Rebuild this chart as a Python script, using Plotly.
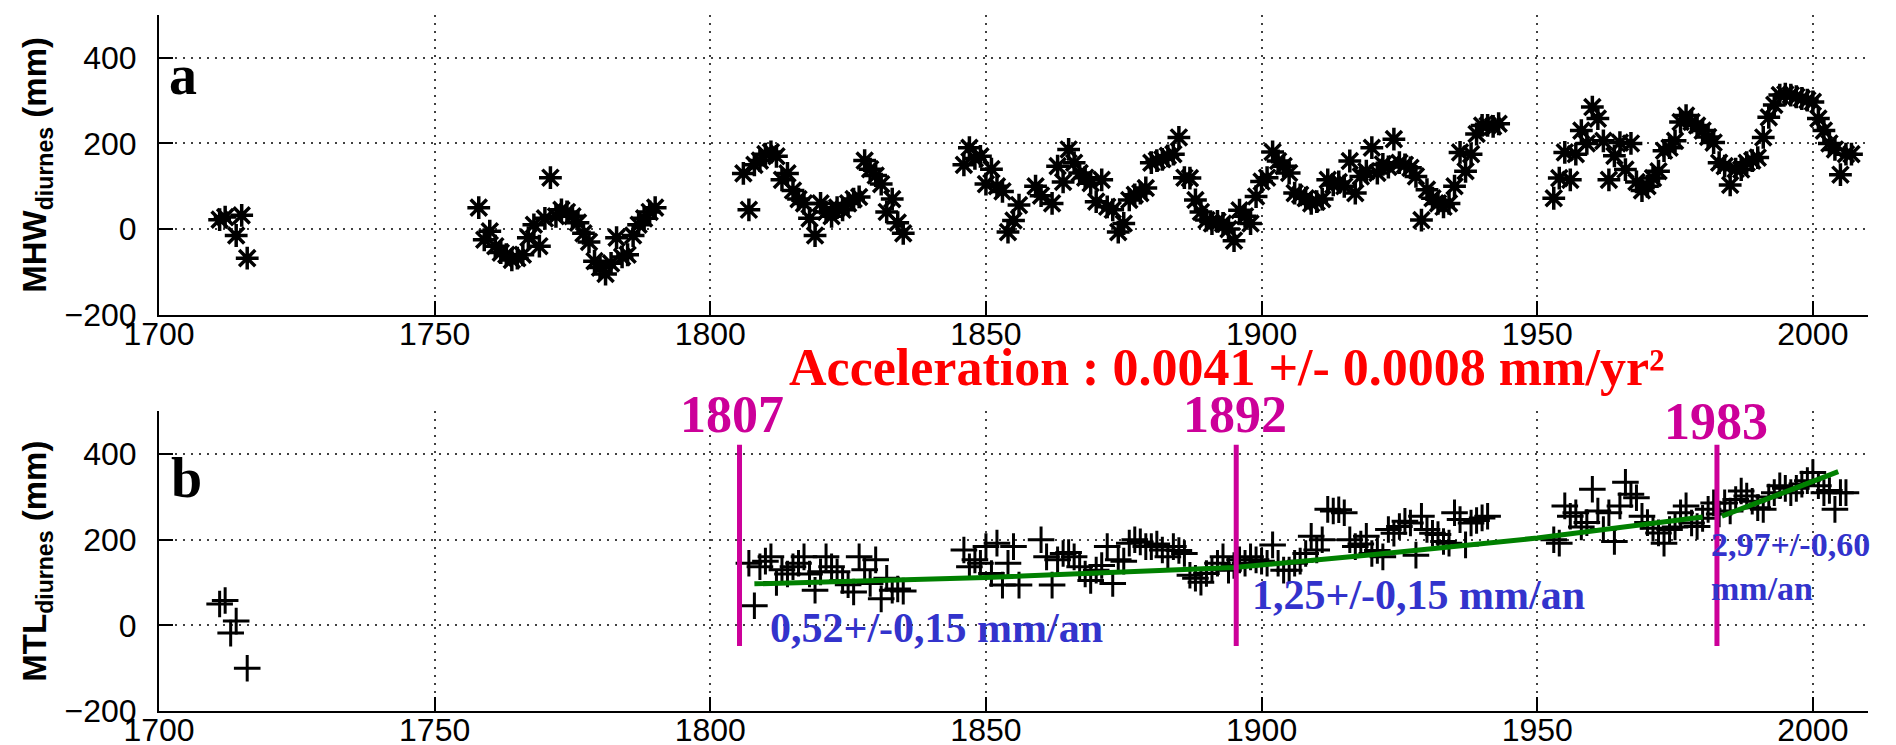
import plotly.graph_objects as go

# ---------------- data ----------------
mhw_years = [1711, 1712, 1714, 1715, 1716,
             1758, 1759, 1760, 1761, 1762, 1763, 1764, 1765, 1766, 1767, 1768, 1769, 1770,
             1771, 1772, 1773, 1774, 1775, 1776, 1777, 1778, 1779, 1780, 1781, 1782, 1783,
             1784, 1785, 1786, 1787, 1788, 1789, 1790,
             1806, 1807, 1808, 1809, 1810, 1811, 1812, 1813, 1814, 1815, 1816, 1817, 1818,
             1819, 1820, 1821, 1822, 1823, 1824, 1825, 1826, 1827, 1828, 1829, 1830, 1831,
             1832, 1833, 1834, 1835,
             1846, 1847, 1848, 1849, 1850, 1851, 1852, 1853, 1854, 1855, 1856,
             1859, 1860, 1862, 1863, 1864, 1865, 1866, 1867, 1868, 1869, 1870, 1871, 1872,
             1873, 1874, 1875, 1876, 1877, 1878, 1879, 1880, 1881, 1882, 1883, 1884, 1885,
             1886, 1887, 1888, 1889, 1890, 1891, 1892, 1893, 1894, 1895, 1896, 1897, 1898,
             1899, 1900, 1901, 1902, 1903, 1904, 1905, 1906, 1907, 1908, 1909, 1910, 1911,
             1912, 1913, 1914, 1915, 1916, 1917, 1918, 1919, 1920, 1921, 1922, 1923, 1924,
             1925, 1926, 1927, 1928, 1929, 1930, 1931, 1932, 1933, 1934, 1935, 1936, 1937,
             1938, 1939, 1940, 1941, 1942, 1943,
             1953, 1954, 1955, 1956, 1957, 1958, 1959, 1960, 1961, 1962, 1963, 1964, 1965,
             1966, 1967, 1968, 1969, 1970, 1971, 1972, 1973, 1974, 1975, 1976, 1977, 1978,
             1979, 1980, 1981, 1982, 1983, 1984, 1985, 1986, 1987, 1988, 1989, 1990, 1991,
             1992, 1993, 1994, 1995, 1996, 1997, 1998, 1999, 2000, 2001, 2002, 2003, 2004,
             2005, 2006, 2007]
mhw_values = [22, 28, -15, 32, -68,
              50, -25, -5, -40, -55, -60, -72, -68, -60, -20, 10, -40, 25,
              120, 30, 45, 40, 30, 15, -10, -30, -75, -90, -105, -80, -20,
              -65, -60, -15, 10, 25, 40, 50,
              130, 45, 150, 160, 175, 180, 170, 115, 130, 90, 70, 60, 25,
              -15, 60, 40, 30, 50, 45, 60, 70, 75, 160, 140, 125, 105,
              40, 70, 15, -10,
              150, 190, 165, 170, 105, 140, 100, 88, -7, 20, 56,
              100, 78, 60, 147, 110, 186, 155, 131, 120, 107, 64, 115, 52,
              45, -7, 13, 68, 80, 84, 96, 155, 160, 163, 171, 175, 214,
              120, 119, 68, 40, 21, 13, 18, 13, 0, -27, 44, 30, 13,
              76, 111, 120, 180, 159, 147, 131, 84, 80, 72, 60, 64, 70,
              115, 103, 110, 100, 159, 84, 123, 135, 190, 131, 151, 145, 210,
              155, 150, 143, 123, 21, 92, 72, 60, 52, 60, 100, 179, 135,
              175, 222, 242, 242, 240, 246,
              72, 119, 179, 115, 175, 230, 200, 285, 258, 206, 115, 171, 202,
              139, 200, 110, 90, 100, 119, 135, 183, 190, 206, 250, 265, 250,
              242, 230, 215, 202, 155, 147, 103, 140, 139, 155, 160, 167, 214,
              261, 290, 313, 315, 313, 309, 305, 301, 297, 258, 230, 200, 186,
              127, 175, 175]

mtl_years = [1711, 1712, 1713, 1714, 1716,
             1807, 1808, 1809, 1810, 1811, 1812, 1813, 1814, 1815, 1816, 1817, 1818, 1819,
             1820, 1821, 1822, 1823, 1824, 1825, 1826, 1827, 1828, 1829, 1830, 1831, 1832,
             1833, 1834, 1835,
             1846, 1847, 1848, 1849, 1850, 1851, 1852, 1853, 1854, 1855, 1856,
             1860, 1861, 1862, 1863, 1864, 1865, 1866, 1867, 1868, 1869, 1870, 1871, 1872,
             1873, 1874, 1875, 1876, 1877, 1878, 1879, 1880, 1881, 1882, 1883, 1884, 1885,
             1886, 1887, 1888, 1889, 1890, 1891, 1892, 1893, 1894, 1895, 1896, 1897, 1898,
             1899, 1900, 1901, 1902, 1903, 1904, 1905, 1906, 1907, 1908, 1909, 1910, 1911,
             1912, 1913, 1914, 1915, 1916, 1917, 1918, 1919, 1920, 1921, 1922, 1923, 1924,
             1925, 1926, 1927, 1928, 1929, 1930, 1931, 1932, 1933, 1934, 1935, 1936, 1937,
             1938, 1939, 1940, 1941,
             1953, 1954, 1955, 1956, 1957, 1958, 1959, 1960, 1961, 1962, 1963, 1964, 1965,
             1966, 1967, 1968, 1969, 1970, 1971, 1972, 1973, 1974, 1975, 1976, 1977, 1978,
             1979, 1980, 1981, 1982, 1983, 1984, 1985, 1986, 1987, 1988, 1989, 1990, 1991,
             1992, 1993, 1994, 1995, 1996, 1997, 1998, 1999, 2000, 2001, 2002, 2003, 2004,
             2005, 2006]
mtl_values = [50, 58, -18, 10, -100,
              145, 46, 137, 150, 160, 100, 130, 120, 137, 145, 160, 120, 82,
              125, 160, 137, 125, 105, 95, 78, 160, 130, 98, 153, 62, 110,
              82, 85, 80,
              176, 137, 153, 145, 184, 121, 192, 94, 145, 184, 94,
              200, 160, 94, 153, 168, 170, 160, 137, 120, 105, 129, 140, 184,
              98, 153, 150, 192, 200, 195, 184, 184, 190, 176, 160, 184, 175,
              168, 117, 110, 101, 121, 130, 145, 160, 129, 140, 153, 145, 160,
              153, 150, 145, 188, 145, 129, 129, 145, 150, 168, 208, 176, 200,
              271, 267, 270, 263, 200, 184, 190, 208, 168, 175, 160, 224, 215,
              231, 243, 239, 164, 255, 224, 215, 212, 196, 192, 263, 247, 188,
              239, 245, 251, 255,
              200, 192, 279, 255, 263, 230, 240, 318, 267, 224, 263, 196, 279,
              334, 306, 298, 255, 240, 227, 216, 192, 224, 230, 263, 279, 239,
              231, 250, 271, 286, 260, 286, 267, 294, 314, 302, 290, 275, 271,
              300, 310, 326, 320, 310, 320, 330, 338, 357, 326, 310, 315, 271,
              310, 310]

# piecewise fit drawn in green (None separates the two drawn pieces)
fit_years = [1808, 1850, 1895, 1920, 1950, 1980, None, 1983.5, 2004.6]
fit_values = [97, 112, 135, 165, 204, 253, None, 255, 359]

# breakpoints (drawn positions) and their labels
break_years = [1805.3, 1895.4, 1982.6]
break_labels = ["1807", "1892", "1983"]
break_label_x = [1803.9, 1895.2, 1982.4]
break_label_y_paper = [0.426, 0.426, 0.416]
break_span = [-48, 422]

rate_texts = ["0,52+/-0,15 mm/an", "1,25+/-0,15 mm/an", "2,97+/-0,60<br>mm/an"]
rate_x = [1841.0, 1928.5, 1981.2]
rate_y = [-5, 70, 137]
rate_sizes = [42, 42, 34]

accel_text = "Acceleration : 0.0041 +/- 0.0008 mm/yr²"
accel_x = 1893.8      # data x (lower axis)
accel_y_paper = 0.494  # paper y

x_ticks = [1700, 1750, 1800, 1850, 1900, 1950, 2000]
y_ticks = [-200, 0, 200, 400]

# ---------------- figure ----------------
MAGENTA = "#CC0099"
BLUE = "#3333CC"
GREEN = "#008000"
SANS = "Liberation Sans, Arial, sans-serif"
SERIF = "Liberation Serif, Times New Roman, serif"

fig = go.Figure()

fig.add_trace(go.Scatter(
    x=mhw_years, y=mhw_values, mode="markers", xaxis="x", yaxis="y",
    marker=dict(symbol="asterisk-open", size=19, color="black",
                line=dict(color="black", width=3.5)),
    showlegend=False))

fig.add_trace(go.Scatter(
    x=mtl_years, y=mtl_values, mode="markers", xaxis="x2", yaxis="y2",
    marker=dict(symbol="cross-thin-open", size=19, color="black",
                line=dict(color="black", width=3)),
    showlegend=False))

fig.add_trace(go.Scatter(
    x=fit_years, y=fit_values, mode="lines", xaxis="x2", yaxis="y2",
    line=dict(color=GREEN, width=5), connectgaps=False, showlegend=False))

for bx in break_years:
    fig.add_trace(go.Scatter(
        x=[bx, bx], y=break_span, mode="lines", xaxis="x2", yaxis="y2",
        line=dict(color=MAGENTA, width=5), showlegend=False))

axis_common = dict(
    showline=True, linecolor="black", linewidth=2, mirror=False,
    ticks="inside", ticklen=14, tickwidth=1.5, tickcolor="black",
    showgrid=True, gridcolor="rgba(0,0,0,0.75)", gridwidth=1.5, griddash="2px,6px",
    zeroline=False, tickfont=dict(family=SANS, size=32, color="black"),
)

layout_axes = {}
for i, (xa, ya, dom, title) in enumerate([
        ("xaxis", "yaxis", [0.5694, 1.0], "<b>MHW<sub>diurnes</sub> (mm)</b>"),
        ("xaxis2", "yaxis2", [0.0, 0.4306], "<b>MTL<sub>diurnes</sub> (mm)</b>")]):
    yid = "y" if i == 0 else "y2"
    xid = "x" if i == 0 else "x2"
    layout_axes[xa] = dict(axis_common, range=[1700, 2010], tickvals=x_ticks,
                           anchor=yid, domain=[0, 1], ticklabelstandoff=-10)
    layout_axes[ya] = dict(axis_common, range=[-200, 500], tickvals=y_ticks,
                           anchor=xid, domain=dom, ticklabelstandoff=14,
                           title=dict(text=title, standoff=8,
                                      font=dict(family=SANS, size=33, color="black")))

fig.update_layout(
    width=1896, height=745,
    margin=dict(l=151, r=36, t=7, b=42, autoexpand=False),
    paper_bgcolor="white", plot_bgcolor="white",
    showlegend=False,
    **layout_axes,
)

ann = []
ann.append(dict(text="<b>a</b>", x=1704.3, y=360, xref="x", yref="y", showarrow=False,
                font=dict(family=SERIF, size=56, color="black")))
ann.append(dict(text="<b>b</b>", x=1705.0, y=345, xref="x2", yref="y2", showarrow=False,
                font=dict(family=SERIF, size=56, color="black")))
ann.append(dict(text="<b>" + accel_text + "</b>", x=accel_x, y=accel_y_paper,
                xref="x2", yref="paper",
                showarrow=False, font=dict(family=SERIF, size=52, color="#FF0000")))
for lab, lx, ly in zip(break_labels, break_label_x, break_label_y_paper):
    ann.append(dict(text="<b>" + lab + "</b>", x=lx, y=ly, xref="x2", yref="paper",
                    showarrow=False, font=dict(family=SERIF, size=52, color=MAGENTA)))
for k, (t, rx, ry, fs) in enumerate(zip(rate_texts, rate_x, rate_y, rate_sizes)):
    if k < 2:
        ann.append(dict(text="<b>" + t + "</b>", x=rx, y=ry, xref="x2", yref="y2",
                        showarrow=False, font=dict(family=SERIF, size=fs, color=BLUE)))
    else:
        ann.append(dict(text="<b>" + t + "</b>", x=rx, y=ry, xref="x2", yref="y2",
                        xanchor="left", align="left", showarrow=False,
                        font=dict(family=SERIF, size=fs, color=BLUE)))
fig.update_layout(annotations=ann)

fig.write_html("out.html")
